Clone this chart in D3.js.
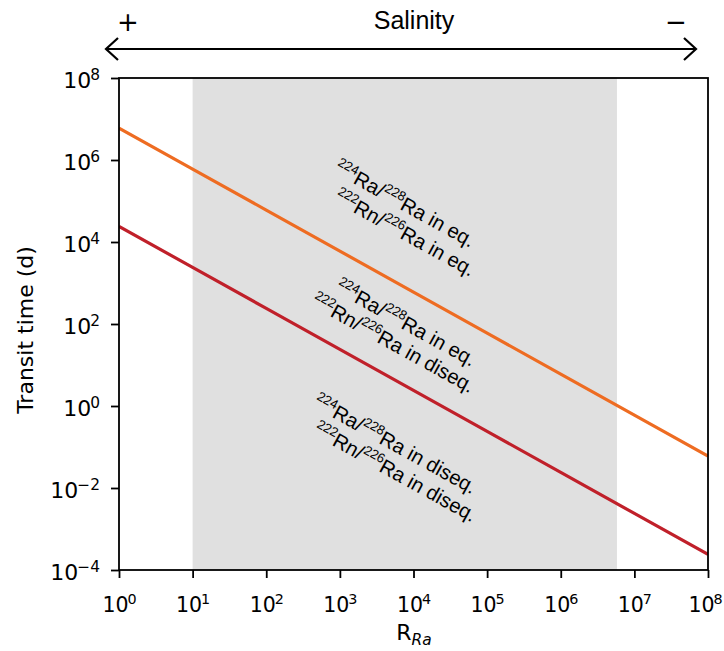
<!DOCTYPE html>
<html><head><meta charset="utf-8">
<script src="https://cdn.jsdelivr.net/npm/d3@7"></script>
<style>body{margin:0;background:#fff}</style>
</head><body><svg id="c" width="724" height="651"></svg>
<script>
// ---- data ----
const rValues = [1e0, 1e1, 1e2, 1e3, 1e4, 1e5, 1e6, 1e7, 1e8];
const eqValues = [6e6, 6e5, 6e4, 6e3, 6e2, 6e1, 6e0, 6e-1, 6e-2];
const diseqValues = [2.4e4, 2.4e3, 2.4e2, 2.4e1, 2.4e0, 2.4e-1, 2.4e-2, 2.4e-3, 2.4e-4];
const shadedRange = [1e1, 5.8e6];
const xTickExponents = [0, 1, 2, 3, 4, 5, 6, 7, 8];
const yTickExponents = [-4, -2, 0, 2, 4, 6, 8];
const labelLines = [
  [["224","Ra/"],["228","Ra in eq."]],
  [["222","Rn/"],["226","Ra in eq."]],
  [["224","Ra/"],["228","Ra in eq."]],
  [["222","Rn/"],["226","Ra in diseq."]],
  [["224","Ra/"],["228","Ra in diseq."]],
  [["222","Rn/"],["226","Ra in diseq."]]
];

// ---- layout ----
const W = 724, H = 651;
const m = {left:119, right:16, top:78, bottom:81};
const svg = d3.select("#c");
const x = d3.scaleLog().domain([1, 1e8]).range([m.left, W - m.right]);
const y = d3.scaleLog().domain([1e-4, 1e8]).range([H - m.bottom, m.top]);
const tickFont = "DejaVu Sans, sans-serif";
const annFont = "Liberation Sans, Arial, sans-serif";
const minus = "\u2212";

// shaded region
svg.append("rect")
  .attr("x", x(shadedRange[0])).attr("y", y(1e8))
  .attr("width", x(shadedRange[1]) - x(shadedRange[0]))
  .attr("height", y(1e-4) - y(1e8))
  .attr("fill", "#e0e0e0");

// lines
const line = d3.line().x(d => x(d[0])).y(d => y(d[1]));
svg.append("clipPath").attr("id","pc").append("rect")
  .attr("x", m.left).attr("y", m.top).attr("width", W-m.left-m.right).attr("height", H-m.top-m.bottom);
svg.append("path").datum(rValues.map((r,i)=>[r, eqValues[i]]))
  .attr("d", line).attr("fill","none").attr("stroke","#ee6c22").attr("stroke-width",3.2)
  .attr("clip-path","url(#pc)");
svg.append("path").datum(rValues.map((r,i)=>[r, diseqValues[i]]))
  .attr("d", line).attr("fill","none").attr("stroke","#c0202a").attr("stroke-width",3.2)
  .attr("clip-path","url(#pc)");

// annotations
const annPos = [[333,172],[333,201],[334,291],[310,305],[312,406],[312,434]];
const angle = 29;
labelLines.forEach((ln, i) => {
  const t = svg.append("text")
    .attr("transform", `translate(${annPos[i][0]},${annPos[i][1]}) rotate(${angle})`)
    .attr("font-family", annFont).attr("font-size", 20.3).attr("fill", "#000");
  ln.forEach(([sup, main]) => {
    t.append("tspan").attr("font-size", 13.2).attr("dy", -8).text(sup);
    t.append("tspan").attr("dy", 8).text(main);
  });
});

// frame
svg.append("rect").attr("x", m.left).attr("y", m.top)
  .attr("width", W-m.left-m.right).attr("height", H-m.top-m.bottom)
  .attr("fill","none").attr("stroke","#000").attr("stroke-width",1.8);

// axes
function supLabel(sel, fs) {
  sel.selectAll(".tick text").each(function(d) {
    const e = Math.round(Math.log10(d));
    const t = d3.select(this);
    t.text(null).attr("font-family", tickFont).attr("font-size", fs).attr("fill","#000");
    t.append("tspan").text("10");
    t.append("tspan").attr("font-size", fs * 0.7).attr("dy", -8).attr("dx", -1)
      .text(e < 0 ? minus + Math.abs(e) : String(e));
  });
}
const xAxis = svg.append("g").attr("transform", `translate(0,${H - m.bottom})`)
  .call(d3.axisBottom(x).tickValues(xTickExponents.map(e => Math.pow(10, e))).tickSize(8).tickPadding(10).tickFormat(() => ""));
xAxis.select(".domain").remove();
xAxis.selectAll(".tick line").attr("stroke","#000").attr("stroke-width",1.8);
supLabel(xAxis, 20.5);
xAxis.selectAll(".tick text").attr("dy", null).attr("y", 42).attr("text-anchor","middle")
  .attr("x", (d, i, n) => i === n.length - 1 ? -3 : 0);

const yAxis = svg.append("g").attr("transform", `translate(${m.left},0)`)
  .call(d3.axisLeft(y).tickValues(yTickExponents.map(e => Math.pow(10, e))).tickSize(8).tickPadding(8).tickFormat(() => ""));
yAxis.select(".domain").remove();
yAxis.selectAll(".tick line").attr("stroke","#000").attr("stroke-width",1.8);
supLabel(yAxis, 22);
yAxis.selectAll(".tick text").attr("dy", null).attr("y", 9).attr("x", -19).attr("text-anchor","end");

// axis titles
const xt = svg.append("text").attr("x", 414).attr("y", 640).attr("text-anchor","middle")
  .attr("font-family", tickFont).attr("font-size", 22);
xt.append("tspan").text("R");
xt.append("tspan").attr("font-size", 15.4).attr("font-style","italic").attr("dy", 5).text("Ra");

svg.append("text").attr("transform", `translate(33,330) rotate(-90)`).attr("text-anchor","middle")
  .attr("font-family", tickFont).attr("font-size", 22).text("Transit time (d)");

// salinity arrow
svg.append("text").attr("x", 414).attr("y", 29).attr("text-anchor","middle")
  .attr("font-family", annFont).attr("font-size", 25).text("Salinity");
svg.append("text").attr("x", 128).attr("y", 31).attr("text-anchor","middle")
  .attr("font-family", tickFont).attr("font-size", 26).text("+");
svg.append("text").attr("x", 676).attr("y", 31).attr("text-anchor","middle")
  .attr("font-family", tickFont).attr("font-size", 26).text(minus);
const ay = 49, ax0 = 106, ax1 = 696;
svg.append("line").attr("x1", ax0).attr("x2", ax1).attr("y1", ay).attr("y2", ay)
  .attr("stroke","#000").attr("stroke-width",2.2);
svg.append("path").attr("d", `M${ax0+12},${ay-11} L${ax0},${ay} L${ax0+12},${ay+11}`)
  .attr("fill","none").attr("stroke","#000").attr("stroke-width",2.2);
svg.append("path").attr("d", `M${ax1-12},${ay-11} L${ax1},${ay} L${ax1-12},${ay+11}`)
  .attr("fill","none").attr("stroke","#000").attr("stroke-width",2.2);
</script>
</body></html>
